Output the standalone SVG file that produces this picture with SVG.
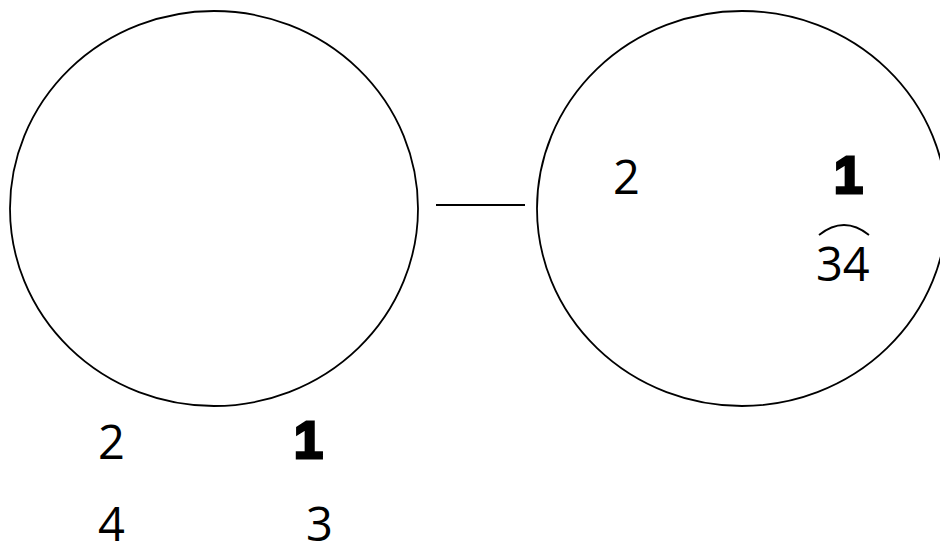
<svg xmlns="http://www.w3.org/2000/svg" width="940" height="547" viewBox="0 0 940 547">
<style>
.shape{fill:none;stroke:#000;stroke-width:1.8}
.num{font-family:"Open Sans","Liberation Sans",sans-serif;font-size:47px;fill:#000}
.bold{font-family:"Liberation Sans",Arial,sans-serif;font-weight:bold;font-size:52px;fill:#000;stroke:#000;stroke-width:3;stroke-linejoin:miter}
</style>
<rect width="940" height="547" fill="#fff"/>
<g id="left-circle">
<ellipse class="shape" cx="214" cy="208.5" rx="204" ry="197.5"/>
</g>
<g id="right-circle">
<ellipse class="shape" cx="742" cy="208.5" rx="205" ry="197.5"/>
<text class="num" x="613" y="194">2</text>
<text class="bold" x="834" y="193">1</text>
<path class="shape" d="M819,235 Q844,215 869,235"/>
<text class="num" x="816" y="281">34</text>
</g>
<g id="connectors">
<line class="shape" x1="436" y1="205" x2="525" y2="205"/>
</g>
<g id="labels">
<text class="num" x="98" y="459">2</text>
<text class="bold" x="294" y="458">1</text>
<text class="num" x="98" y="541">4</text>
<text class="num" x="306" y="541">3</text>
</g>
</svg>
